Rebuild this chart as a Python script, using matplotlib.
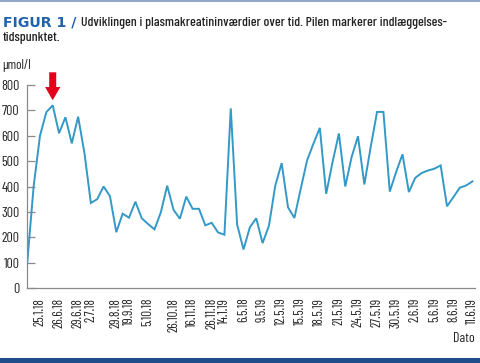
import matplotlib
matplotlib.use("Agg")
import matplotlib.pyplot as plt
from matplotlib.patches import FancyArrow, Rectangle

values = [100, 400, 600, 693, 720, 610, 673, 570, 675, 530,
          335, 350, 400, 362, 220, 293, 277, 340, 275, 252,
          231, 298, 403, 308, 273, 360, 312, 312, 247, 257,
          219, 210, 708, 250, 152, 239, 275, 177, 245, 404,
          492, 318, 276, 391, 503, 569, 631, 371, 496, 609,
          400, 516, 598, 408, 556, 694, 694, 380, 457, 527,
          378, 434, 453, 463, 470, 483, 322, 358, 395, 404, 420]
tick_labels = ["25.1.18", "26.6.18", "29.6.18", "2.7.18", "29.8.18", "19.9.18",
               "5.10.18", "26.10.18", "16.11.18", "26.11.18", "14.1.19", "6.5.18",
               "9.5.19", "12.5.19", "15.5.19", "18.5.19", "21.5.19", "24.5.19",
               "27.5.19", "30.5.19", "2.6.19", "5.6.19", "8.6.19", "11.6.19"]
tick_index = [3, 6, 9, 11, 15, 17, 20, 24, 27, 30, 32, 35, 38, 41, 44, 47,
              50, 53, 56, 59, 62, 65, 68, 71]
y_ticks = [0, 100, 200, 300, 400, 500, 600, 700, 800]
arrow_index = 5

narrow = ["Barlow Condensed", "DejaVu Sans"]

fig = plt.figure(figsize=(4.8, 3.63), dpi=100)
W, H = 480, 363

# top border & bottom band
fig.add_artist(Rectangle((0, 1 - 2 / H), 1, 2 / H, transform=fig.transFigure,
                         color="#8fa6c4", lw=0))
fig.add_artist(Rectangle((0, 0), 1, 5 / H, transform=fig.transFigure,
                         color="#1f4d8c", lw=0))

# title
fig.text(3 / W, 1 - 26 / H, "FIGUR 1 /", fontsize=10.2, fontweight="bold",
         color="#2163ab", family="DejaVu Sans", va="baseline", ha="left")
fig.text(81 / W, 1 - 26 / H,
         "Udviklingen i plasmakreatininværdier over tid. Pilen markerer indlæggelses-",
         fontsize=9.9, fontweight="medium", color="#222222", family=narrow,
         va="baseline", ha="left")
fig.text(3 / W, 1 - 41 / H, "tidspunktet.", fontsize=9.9, fontweight="medium",
         color="#222222", family=narrow, va="baseline", ha="left")

ax = fig.add_axes([26.5 / W, 1 - 288 / H, (475 - 26.5) / W, (288 - 85) / H])
x = list(range(1, len(values) + 1))
ax.plot(x, values, color="#3399c6", lw=1.4, solid_joinstyle="miter")
ax.set_xlim(0.88, 71.4)
ax.set_ylim(0, 800)

for s in ["top", "right"]:
    ax.spines[s].set_visible(False)
for s in ["left", "bottom"]:
    ax.spines[s].set_color("#8a8a8a")
    ax.spines[s].set_linewidth(0.9)

ax.set_yticks(y_ticks)
ax.set_yticklabels([str(v) for v in y_ticks], family=narrow, fontsize=10,
                   color="#222222")
ax.tick_params(axis="y", direction="in", length=6, width=0.9, color="#8a8a8a",
               pad=5)
ax.set_xticks(tick_index)
ax.set_xticklabels(tick_labels, rotation=90, family=narrow, fontsize=9.5,
                   color="#222222")
ax.tick_params(axis="x", length=0, pad=7)

fig.text(2 / W, 1 - 66 / H, "µmol/l", fontsize=9.5, color="#222222",
         family=narrow, va="center", ha="left")
fig.text(475 / W, 1 - 338 / H, "Dato", fontsize=10, color="#222222",
         family=narrow, va="center", ha="right")

arr = FancyArrow(arrow_index, 850, 0, -110, width=1.1, head_width=2.4,
                 head_length=52, length_includes_head=True, color="#e2001a",
                 lw=0, clip_on=False)
ax.add_patch(arr)

fig.savefig("out.png", dpi=100)
